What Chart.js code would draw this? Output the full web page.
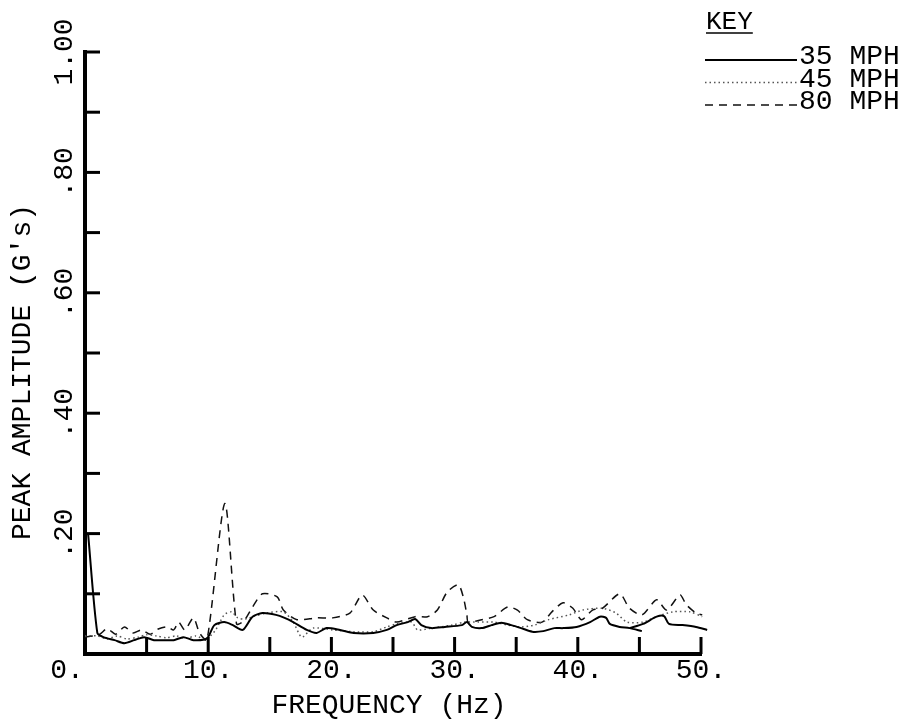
<!DOCTYPE html>
<html>
<head>
<meta charset="utf-8">
<script src="https://cdn.jsdelivr.net/npm/chart.js@4.4.1/dist/chart.umd.min.js"></script>
<style>
  html, body { margin: 0; padding: 0; background: #fff; }
  #chartBox { width: 919px; height: 727px; }
</style>
</head>
<body>
<div id="chartBox"><canvas id="chart" width="919" height="727"></canvas></div>
<script>
// values (Hz, G's)
const freq35 = [0.25, 1.0, 1.5, 2.4, 3.2, 4.0, 4.8, 5.6, 6.4, 7.2, 8.0, 8.8, 9.9, 10.5, 11.3, 12.0, 12.8, 13.6, 14.4, 15.5, 16.2, 16.9, 18.0, 18.8, 19.6, 20.7, 21.8, 23.4, 24.5, 25.3, 26.2, 26.8, 27.3, 28.1, 29.2, 30.6, 31.0, 31.4, 32.2, 33.0, 33.8, 34.6, 35.4, 36.3, 37.2, 38.1, 38.8, 39.9, 41.0, 41.8, 42.3, 42.6, 43.4, 44.2, 45.2, 45.2, 44.2, 45.3, 46.4, 47.0, 47.4, 48.5, 49.6, 50.5];
const amp35 = [0.20, 0.035, 0.028, 0.023, 0.018, 0.023, 0.028, 0.023, 0.023, 0.023, 0.028, 0.023, 0.026, 0.048, 0.053, 0.048, 0.040, 0.062, 0.068, 0.065, 0.060, 0.053, 0.040, 0.035, 0.043, 0.040, 0.035, 0.035, 0.040, 0.048, 0.053, 0.058, 0.048, 0.043, 0.045, 0.048, 0.053, 0.045, 0.043, 0.048, 0.052, 0.048, 0.043, 0.037, 0.038, 0.043, 0.043, 0.045, 0.053, 0.062, 0.060, 0.050, 0.045, 0.043, 0.038, null, 0.043, 0.050, 0.062, 0.063, 0.050, 0.048, 0.045, 0.040];

const freq45 = [0.0, 1.0, 1.8, 2.6, 3.4, 4.3, 5.0, 5.8, 6.6, 7.4, 8.2, 9.0, 9.8, 10.6, 11.3, 11.9, 12.4, 13.0, 13.8, 14.7, 16.1, 16.9, 17.6, 18.5, 20.1, 21.8, 23.4, 24.5, 25.3, 26.5, 27.0, 28.1, 29.8, 30.8, 31.9, 33.2, 34.3, 35.4, 36.5, 37.6, 39.3, 40.4, 42.0, 43.1, 44.0, 45.3, 46.4, 47.7, 49.1, 50.1];
const amp45 = [0.030, 0.030, 0.025, 0.030, 0.025, 0.028, 0.032, 0.030, 0.027, 0.030, 0.026, 0.030, 0.024, 0.040, 0.065, 0.070, 0.060, 0.058, 0.063, 0.068, 0.070, 0.053, 0.028, 0.043, 0.040, 0.037, 0.037, 0.045, 0.050, 0.053, 0.040, 0.043, 0.048, 0.053, 0.053, 0.053, 0.048, 0.045, 0.048, 0.057, 0.065, 0.073, 0.076, 0.068, 0.053, 0.053, 0.062, 0.070, 0.070, 0.062];

const freq80 = [0.0, 0.6, 1.2, 1.8, 2.5, 3.2, 3.9, 4.6, 5.3, 6.0, 6.7, 7.2, 7.6, 8.1, 8.8, 9.3, 9.9, 11.35, 12.3, 12.9, 13.6, 14.4, 15.6, 16.1, 17.2, 18.8, 20.1, 21.5, 22.5, 23.4, 24.5, 25.3, 26.8, 27.8, 28.6, 29.4, 30.3, 30.7, 31.0, 31.1, 32.2, 33.2, 34.3, 35.1, 35.9, 37.1, 37.9, 38.8, 39.6, 40.3, 41.2, 42.0, 43.4, 44.2, 45.2, 46.4, 47.2, 48.3, 48.8, 49.6, 50.1];
const amp80 = [0.028, 0.030, 0.033, 0.042, 0.033, 0.045, 0.035, 0.040, 0.033, 0.042, 0.045, 0.040, 0.053, 0.040, 0.060, 0.035, 0.023, 0.250, 0.050, 0.055, 0.078, 0.100, 0.095, 0.073, 0.057, 0.060, 0.060, 0.068, 0.098, 0.073, 0.060, 0.053, 0.062, 0.062, 0.073, 0.103, 0.115, 0.095, 0.065, 0.053, 0.057, 0.062, 0.078, 0.073, 0.057, 0.053, 0.070, 0.085, 0.076, 0.057, 0.073, 0.076, 0.100, 0.076, 0.065, 0.090, 0.073, 0.098, 0.082, 0.068, 0.065];

const seriesNames = ["35 MPH", "45 MPH", "80 MPH"];
const xTicks = [0, 5, 10, 15, 20, 25, 30, 35, 40, 45, 50];
const xLabels = ["0.", "", "10.", "", "20.", "", "30.", "", "40.", "", "50."];
const yTicks = [0, 0.1, 0.2, 0.3, 0.4, 0.5, 0.6, 0.7, 0.8, 0.9, 1.0];
const yLabels = ["", "", ".20", "", ".40", "", ".60", "", ".80", "", "1.00"];

const fontFamily = '"Liberation Mono", "DejaVu Sans Mono", monospace';

const toPoints = (freqs, amps) => freqs.map((f, i) => ({ x: f, y: amps[i] }));

const paperPlugin = {
  id: "paperPlugin",
  afterDraw(chart) {
    const { ctx, chartArea, scales: { x, y } } = chart;
    ctx.save();
    ctx.strokeStyle = "#000";
    ctx.fillStyle = "#000";
    ctx.setLineDash([]);
    ctx.lineWidth = 3;
    // inward tick marks
    xTicks.forEach((v) => {
      if (v === 0) return;
      const px = x.getPixelForValue(v);
      ctx.beginPath();
      ctx.moveTo(px, chartArea.bottom);
      ctx.lineTo(px, chartArea.bottom - 17);
      ctx.stroke();
    });
    yTicks.forEach((v) => {
      if (v === 0) return;
      const py = y.getPixelForValue(v);
      ctx.beginPath();
      ctx.moveTo(chartArea.left, py);
      ctx.lineTo(chartArea.left + 15, py);
      ctx.stroke();
    });

    ctx.font = "28px " + fontFamily;
    ctx.textAlign = "center";
    ctx.textBaseline = "middle";
    xTicks.forEach((v, i) => {
      if (!xLabels[i]) return;
      const shift = v === 0 ? -18 : 0;
      ctx.fillText(xLabels[i], x.getPixelForValue(v) + shift, chartArea.bottom + 17);
    });
    yTicks.forEach((v, i) => {
      if (!yLabels[i]) return;
      ctx.save();
      ctx.translate(chartArea.left - 20, y.getPixelForValue(v));
      ctx.rotate(-Math.PI / 2);
      ctx.fillText(yLabels[i], 0, 0);
      ctx.restore();
    });

    // axis titles
    ctx.fillText("FREQUENCY (Hz)", (chartArea.left + chartArea.right) / 2 - 4, chartArea.bottom + 52);
    ctx.save();
    ctx.translate(23, 372);
    ctx.rotate(-Math.PI / 2);
    ctx.fillText("PEAK AMPLITUDE (G's)", 0, 0);
    ctx.restore();

    // key
    ctx.textAlign = "left";
    ctx.textBaseline = "alphabetic";
    ctx.font = "26px " + fontFamily;
    ctx.fillText("KEY", 706, 29);
    const keyWidth = ctx.measureText("KEY").width;
    ctx.lineWidth = 1.5;
    ctx.beginPath();
    ctx.moveTo(706, 33);
    ctx.lineTo(706 + keyWidth, 33);
    ctx.stroke();
    ctx.font = "28px " + fontFamily;
    chart.data.datasets.forEach((ds, i) => {
      const rowY = 60 + i * 22.5;
      ctx.save();
      ctx.strokeStyle = ds.borderColor;
      ctx.lineWidth = ds.borderWidth;
      ctx.setLineDash(ds.borderDash || []);
      ctx.beginPath();
      ctx.moveTo(705, rowY);
      ctx.lineTo(797, rowY);
      ctx.stroke();
      ctx.restore();
      ctx.fillText(ds.label, 799, rowY + 4);
    });
    ctx.restore();
  }
};

new Chart(document.getElementById("chart"), {
  type: "line",
  data: {
    datasets: [
      { label: seriesNames[0], data: toPoints(freq35, amp35), borderColor: "#000", borderWidth: 2, borderDash: [] },
      { label: seriesNames[1], data: toPoints(freq45, amp45), borderColor: "#555", borderWidth: 1.5, borderDash: [1.5, 3] },
      { label: seriesNames[2], data: toPoints(freq80, amp80), borderColor: "#111", borderWidth: 1.5, borderDash: [8, 6] }
    ]
  },
  options: {
    responsive: false,
    animation: false,
    devicePixelRatio: 1,
    layout: { padding: { top: 52, right: 218, bottom: 0, left: 0 } },
    elements: {
      point: { radius: 0 },
      line: { tension: 0.25, fill: false }
    },
    datasets: { line: { clip: false, spanGaps: false } },
    plugins: { legend: { display: false }, tooltip: { enabled: false } },
    scales: {
      x: {
        type: "linear",
        min: 0,
        max: 50,
        grid: { display: false },
        border: { display: true, width: 4, color: "#000" },
        ticks: { display: false },
        afterFit: (scale) => { scale.height = 73; }
      },
      y: {
        type: "linear",
        min: 0,
        max: 1,
        grid: { display: false },
        border: { display: true, width: 4, color: "#000" },
        ticks: { display: false },
        afterFit: (scale) => { scale.width = 85; }
      }
    }
  },
  plugins: [paperPlugin]
});
</script>
</body>
</html>
